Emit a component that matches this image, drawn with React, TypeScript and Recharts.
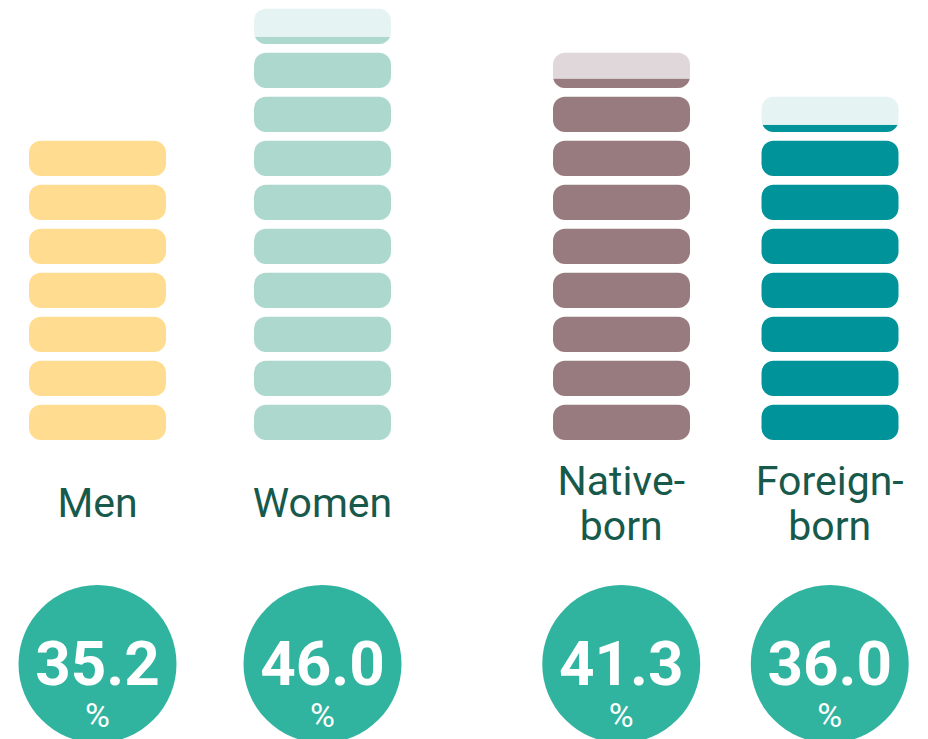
import { BarChart, Bar, XAxis, YAxis } from 'recharts';

const categories = ['Men', 'Women', 'Native-born', 'Foreign-born'];
const shares = [35.2, 46.0, 41.3, 36.0];
const labelLines = [['Men'], ['Women'], ['Native-', 'born'], ['Foreign-', 'born']];

// one pill = 5 percentage points
const UNIT = 5;
const SLOTS = 10;

const palette: Record<string, { fill: string; light: string }> = {
  Men: { fill: '#FFDC90', light: '#FFF3D9' },
  Women: { fill: '#ACD8CD', light: '#E5F3F3' },
  'Native-born': { fill: '#977B7E', light: '#E0D7DA' },
  'Foreign-born': { fill: '#00939A', light: '#E5F3F3' },
};

const rows = categories.map((name, i) => {
  const v = shares[i];
  const full = Math.floor(v / UNIT);
  const frac = (v - full * UNIT) / UNIT;
  const row: Record<string, number | string> = { name, share: v };
  for (let k = 0; k < SLOTS; k++) {
    const shown = k < full || (k === full && frac >= 0.1);
    row[`s${k}`] = shown ? UNIT : 0;
    row[`f${k}`] = k < full ? 1 : frac;
  }
  return row;
});

const FONT = 'Roboto, "Noto Sans", sans-serif';

const Pill = (props: any) => {
  const { x, y, width, height, payload, slot } = props;
  if (!height || height <= 0) return null;
  const colors = palette[payload.name];
  const h = height * 0.8;
  const top = y + height - h;
  const frac = Number(payload[`f${slot}`]);
  if (frac >= 1) {
    return <rect x={x} y={top} width={width} height={h} rx={12} ry={12} fill={colors.fill} />;
  }
  const id = `clip-${String(payload.name).replace(/\W/g, '')}-${slot}`;
  const fh = h * frac;
  return (
    <g>
      <defs>
        <clipPath id={id}>
          <rect x={x} y={top} width={width} height={h} rx={12} ry={12} />
        </clipPath>
      </defs>
      <rect x={x} y={top} width={width} height={h} rx={12} ry={12} fill={colors.light} />
      <rect x={x} y={top + h - fh} width={width} height={fh} fill={colors.fill} clipPath={`url(#${id})`} />
    </g>
  );
};

const CategoryTick = (props: any) => {
  const { x, y, payload } = props;
  const i = categories.indexOf(payload.value);
  const lines = labelLines[i];
  const baselines = lines.length === 1 ? [77] : [55, 100];
  return (
    <g>
      {lines.map((t, j) => (
        <text
          key={t}
          x={x}
          y={y + baselines[j]}
          textAnchor="middle"
          fontFamily={FONT}
          fontSize={41}
          fill="#17594B"
        >
          {t}
        </text>
      ))}
      <circle cx={x} cy={y + 224} r={79} fill="#31B49F" />
      <text x={x} y={y + 245} textAnchor="middle" fontFamily={FONT} fill="#ffffff">
        <tspan x={x} fontSize={62} fontWeight={700}>
          {shares[i].toFixed(1)}
        </tspan>
        <tspan x={x} dy={42} fontSize={34} fontWeight={400}>
          %
        </tspan>
      </text>
    </g>
  );
};

const slotKeys = Array.from({ length: SLOTS }, (_, k) => k);

const PillChart = ({ data, width }: { data: typeof rows; width: number }) => (
  <BarChart width={width} height={739} data={data} margin={{ top: 0, right: 0, bottom: 0, left: 0 }}>
    <XAxis
      dataKey="name"
      height={299}
      axisLine={false}
      tickLine={false}
      tickSize={0}
      tickMargin={0}
      interval={0}
      tick={<CategoryTick />}
    />
    <YAxis hide domain={[0, SLOTS * UNIT]} />
    {slotKeys.map((k) => (
      <Bar
        key={k}
        dataKey={`s${k}`}
        stackId="pills"
        barSize={137}
        isAnimationActive={false}
        shape={(p: any) => <Pill {...p} slot={k} />}
      />
    ))}
  </BarChart>
);

export default function App() {
  return (
    <div
      style={{
        position: 'fixed',
        left: 0,
        top: 0,
        width: 928,
        height: 739,
        overflow: 'hidden',
        background: '#ffffff',
      }}
    >
      <div style={{ position: 'absolute', left: -15, top: 0 }}>
        <PillChart data={rows.slice(0, 2)} width={450} />
      </div>
      <div style={{ position: 'absolute', left: 517, top: 0 }}>
        <PillChart data={rows.slice(2)} width={417} />
      </div>
    </div>
  );
}
